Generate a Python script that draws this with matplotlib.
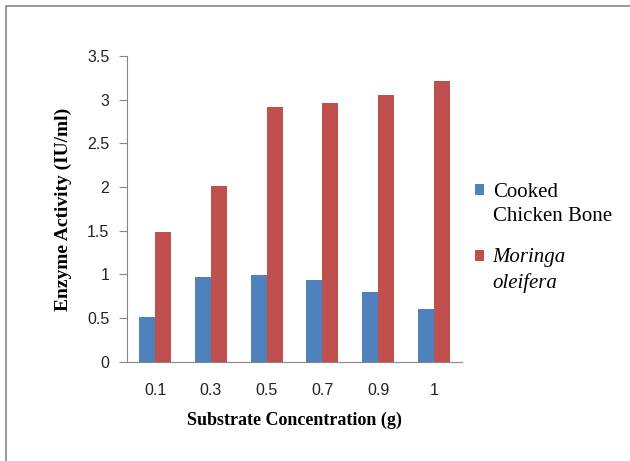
import numpy as np
import matplotlib.pyplot as plt
from matplotlib.font_manager import FontProperties
from matplotlib.patches import Rectangle
from matplotlib.container import BarContainer
from matplotlib.legend_handler import HandlerPatch

conc = ['0.1', '0.3', '0.5', '0.7', '0.9', '1']
bone = [0.51, 0.97, 0.99, 0.94, 0.80, 0.60]
moringa = [1.49, 2.01, 2.91, 2.96, 3.05, 3.21]
yticks = [0, 0.5, 1, 1.5, 2, 2.5, 3, 3.5]

fig = plt.figure(figsize=(6.3, 4.61), dpi=100)
ax = fig.add_axes([0.202, 0.2148, 0.531, 0.6642])

x = np.arange(len(conc))
w = 0.287
ax.bar(x - w/2, bone, w, color='#4F81BD', label='Cooked\nChicken Bone')
ax.bar(x + w/2, moringa, w, color='#C0504D', label='Moringa\noleifera')

ax.set_xlim(-0.5, len(conc) - 0.5)
ax.set_ylim(0, 3.5)
ax.set_xticks(x)
ax.set_xticklabels(conc, family='Liberation Sans', fontsize=11.5, color='#222222')
ax.set_yticks(yticks)
ax.set_yticklabels(['%g' % v for v in yticks], family='Liberation Sans',
                   fontsize=11.5, color='#222222')
ax.tick_params(axis='x', length=0, pad=15)
ax.tick_params(axis='y', length=6, color='#868686', pad=7)
for s in ['top', 'right']:
    ax.spines[s].set_visible(False)
for s in ['left', 'bottom']:
    ax.spines[s].set_color('#868686')

ax.set_xlabel('Substrate Concentration (g)', family='Liberation Serif',
              fontweight='bold', fontsize=13, labelpad=10)
ax.set_ylabel('Enzyme Activity (IU/ml)', family='Liberation Serif',
              fontweight='bold', fontsize=14, labelpad=11)


# legend square sits beside the first line of its label
def top_square(legend, orig_handle, xdescent, ydescent, width, height, fontsize):
    return Rectangle((-xdescent, -ydescent + 0.7 * fontsize), width, height)


sq = HandlerPatch(patch_func=top_square,
                  update_func=lambda h, o: h.update_from(o.patches[0]))
leg = fig.legend(loc='upper left', bbox_to_anchor=(0.754, 0.603), frameon=False,
                 prop=FontProperties(family='Liberation Serif', size=15),
                 handlelength=0.45, handleheight=0.45, handletextpad=0.4,
                 labelspacing=1.08, borderpad=0, borderaxespad=0,
                 handler_map={BarContainer: sq})
for t in leg.get_texts():
    t.set_fontfamily('Liberation Serif')
    t.set_linespacing(1.35)
leg.get_texts()[1].set_fontstyle('italic')

# grey frame round the chart area
fig.patches.append(Rectangle((6/630, -0.1), 1.2, 1 - 6/461 + 0.1,
                             transform=fig.transFigure, fill=False,
                             edgecolor='#868686', linewidth=1.2))

fig.savefig('out.png', dpi=100)
